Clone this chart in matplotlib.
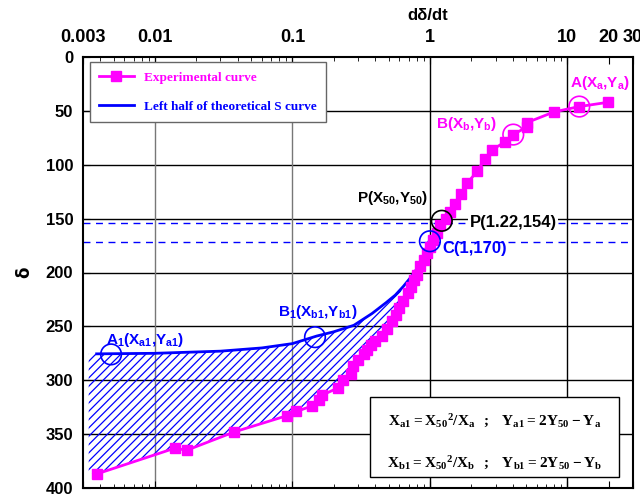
import numpy as np
import matplotlib
matplotlib.use("Agg")
import matplotlib.pyplot as plt
from matplotlib.patches import Rectangle

# ── Data ────────────────────────────────────────────────────────────────
exp_rate = [0.00377, 0.0140, 0.0170, 0.0377, 0.0907, 0.107, 0.138, 0.155, 0.163,
            0.216, 0.232, 0.265, 0.277, 0.301, 0.330, 0.350, 0.375, 0.400, 0.445,
            0.484, 0.526, 0.565, 0.600, 0.640, 0.690, 0.730, 0.760, 0.800, 0.850,
            0.900, 0.950, 1.00, 1.06, 1.12, 1.18, 1.30, 1.41, 1.52, 1.67, 1.87,
            2.21, 2.51, 2.84, 3.51, 4.04, 5.05, 5.05, 7.98, 12.2, 19.8]
exp_delta = [387, 363, 365, 348, 333, 329, 324, 318, 314,
             307, 300, 294, 287, 281, 276, 272, 267, 264, 259,
             252, 245, 239, 233, 226, 219, 213, 207, 202, 194,
             188, 182, 176, 170, 163, 156, 150, 144, 136, 127, 117,
             106, 95, 86, 79, 72, 65, 61, 51, 46, 42]

theo_rate = [0.00377, 0.01, 0.03, 0.06, 0.10, 0.15, 0.20, 0.28, 0.38, 0.48,
             0.56, 0.64, 0.72, 0.80, 0.88, 0.95, 0.98]
theo_delta = [275.5, 275, 273, 270, 266, 259, 255, 249, 238, 228,
              221, 213, 205, 197, 187, 178, 172]

# marked points (x, delta, colour)
circles = [(12.2, 46, "#ff00ff"), (4.04, 72, "#ff00ff"), (1.22, 152, "black"),
           (1.0, 171, "#0000ff"), (0.0048, 276, "#0000ff"), (0.146, 260, "#0000ff")]
hlines = [154, 172]

x_ticks = [0.003, 0.01, 0.1, 1, 10, 20, 30]
x_ticklabels = ["0.003", "0.01", "0.1", "1", "10", "20", "30"]
y_ticks = list(range(0, 401, 50))

MAG = "#ff00ff"
BLUE = "#0000ff"

plt.rcParams["mathtext.fontset"] = "custom"
plt.rcParams["mathtext.bf"] = "Liberation Serif:bold"
plt.rcParams["mathtext.sf"] = "Liberation Sans:bold"
plt.rcParams["mathtext.rm"] = "Liberation Serif:bold"
plt.rcParams["hatch.linewidth"] = 0.9

fig = plt.figure(figsize=(6.4, 4.95), dpi=100)
ax = fig.add_axes([83 / 640, 1 - 488 / 495, 550 / 640, 431 / 495])

ax.set_xscale("log")
ax.set_xlim(0.003, 30)
ax.set_ylim(400, 0)

# grid
for y in y_ticks[1:-1]:
    ax.axhline(y, color="black", lw=1, zorder=1)
for xv, c in [(0.01, "#777777"), (0.1, "#777777"), (1, "black"), (10, "black")]:
    ax.axvline(xv, color=c, lw=1, zorder=1)

for y in hlines:
    ax.axhline(y, color=BLUE, lw=1, dashes=(5, 4), zorder=2)

# hatched area between theoretical and experimental curves
xf = np.logspace(np.log10(0.0033), np.log10(0.62), 200)
lx = np.log10(xf)
yb = np.interp(lx, np.log10(theo_rate), theo_delta)
ym = np.interp(lx, np.log10(exp_rate), exp_delta)
ax.fill_between(xf, yb, ym, facecolor="none", edgecolor=BLUE, hatch="////",
                lw=0, zorder=2)

ax.plot(exp_rate, exp_delta, color=MAG, lw=2, marker="s", ms=6.5,
        label="Experimental curve", zorder=4)
ax.plot(theo_rate, theo_delta, color=BLUE, lw=2,
        label="Left half of theoretical S curve", zorder=3)

for xv, yv, c in circles:
    ax.scatter([xv], [yv], s=220, facecolors="none", edgecolors=c, lw=1.2, zorder=6)

# labels
lab = dict(fontsize=11, va="center", ha="left", zorder=7)
ax.text(10.4, 24, r"$\mathsf{A(X_a{,}Y_a)}$", color=MAG, **lab)
ax.text(1.11, 62, r"$\mathsf{B(X_b{,}Y_b)}$", color=MAG, **lab)
ax.text(0.967, 131, r"$\mathsf{P(X_{50}{,}Y_{50})}$", color="black",
        fontsize=11, va="center", ha="right", zorder=7)
ax.text(1.95, 154, "P(1.22,154)", color="black", fontsize=12, fontweight="bold",
        family="Liberation Sans", va="center", ha="left", zorder=7,
        bbox=dict(facecolor="white", edgecolor="none", pad=1))
ax.text(1.24, 178, "C(1,170)", color=BLUE, fontsize=12, fontweight="bold",
        family="Liberation Sans", va="center", ha="left", zorder=7)
ax.text(0.078, 237, r"$\mathsf{B_1(X_{b1}{,}Y_{b1})}$", color=BLUE, **lab)
ax.text(0.0044, 263, r"$\mathsf{A_1(X_{a1}{,}Y_{a1})}$", color=BLUE, **lab)

# formula box
ax.add_patch(Rectangle((0.522, 0.0255), 0.453, 0.186, transform=ax.transAxes,
                       facecolor="white", edgecolor="black", lw=1, zorder=8))
ax.text(0.748, 0.155, r"$\mathbf{X_{a1} = X_{50}{}^2/X_a\ \ ;\ \ Y_{a1} = 2Y_{50} - Y_a}$",
        transform=ax.transAxes, ha="center", va="center", fontsize=11, zorder=9)
ax.text(0.748, 0.057, r"$\mathbf{X_{b1} = X_{50}{}^2/X_b\ \ ;\ \ Y_{b1} = 2Y_{50} - Y_b}$",
        transform=ax.transAxes, ha="center", va="center", fontsize=11, zorder=9)

leg = ax.legend(loc="upper left", bbox_to_anchor=(0.0127, 0.988), borderaxespad=0,
                fancybox=False, edgecolor="#666666", framealpha=1,
                prop={"family": "Liberation Serif", "weight": "bold", "size": 9.5},
                labelcolor="linecolor", handlelength=2.6, labelspacing=1.3,
                borderpad=0.7)
leg.get_frame().set_linewidth(1)
leg.set_zorder(10)

# axes styling
ax.set_xticks(x_ticks)
ax.set_xticklabels(x_ticklabels)
ax.set_yticks(y_ticks)
ax.tick_params(axis="x", which="both", direction="in", top=True, bottom=True,
               labeltop=True, labelbottom=False, pad=8)
ax.tick_params(axis="x", which="major", length=5)
ax.tick_params(axis="x", which="minor", length=3)
ax.tick_params(axis="y", direction="in", length=5, pad=7)
for lbl in ax.get_xticklabels():
    lbl.set_fontweight("bold")
    lbl.set_fontsize(13)
    lbl.set_fontfamily("Liberation Sans")
for lbl in ax.get_yticklabels():
    lbl.set_fontweight("bold")
    lbl.set_fontsize(12)
    lbl.set_fontfamily("Liberation Sans")
for s in ax.spines.values():
    s.set_linewidth(1.5)

fig.text(428 / 640, 1 - 16 / 495, "dδ/dt", ha="center", va="center",
         fontsize=12, fontweight="bold", family="Liberation Sans")
ax.set_ylabel("δ", fontsize=12, fontweight="bold", labelpad=9)

fig.savefig("out.png", dpi=100)
